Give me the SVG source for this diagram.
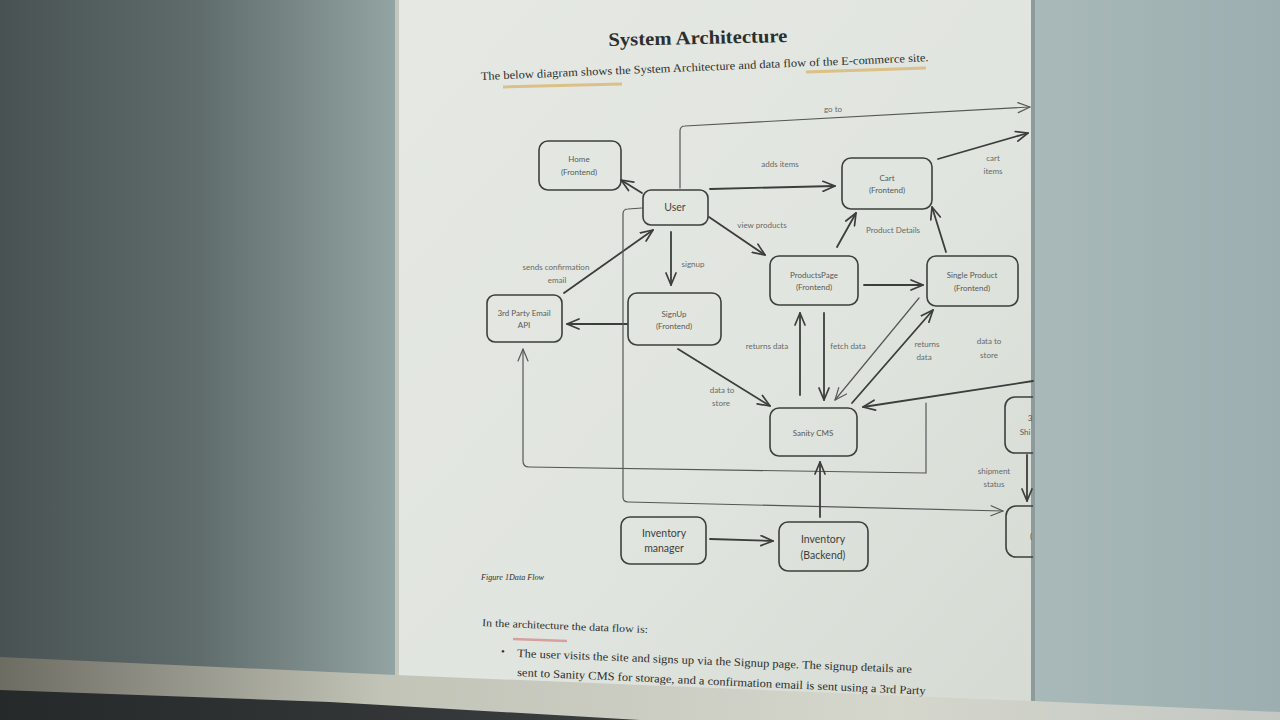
<svg xmlns="http://www.w3.org/2000/svg" width="1280" height="720" viewBox="0 0 1280 720">
<defs>
  <linearGradient id="bgL" x1="0" y1="0" x2="1" y2="0">
    <stop offset="0" stop-color="#485252"/>
    <stop offset="0.5" stop-color="#5f6c6b"/>
    <stop offset="1" stop-color="#92a4a3"/>
  </linearGradient>
  <linearGradient id="bgR" x1="0" y1="0" x2="1" y2="0">
    <stop offset="0" stop-color="#a9b9ba"/>
    <stop offset="1" stop-color="#9caeaf"/>
  </linearGradient>
  <linearGradient id="paper" x1="0" y1="0" x2="1" y2="1">
    <stop offset="0" stop-color="#e6e9e3"/>
    <stop offset="0.55" stop-color="#e1e5df"/>
    <stop offset="1" stop-color="#d5dad3"/>
  </linearGradient>
  <linearGradient id="strip" x1="0" y1="0" x2="1" y2="0">
    <stop offset="0" stop-color="#6c6c62"/>
    <stop offset="0.3" stop-color="#c3c4b8"/>
    <stop offset="0.7" stop-color="#d5d6cc"/>
    <stop offset="1" stop-color="#c3c8c3"/>
  </linearGradient>
  <linearGradient id="dark" x1="0" y1="0" x2="1" y2="0">
    <stop offset="0" stop-color="#25292a"/>
    <stop offset="1" stop-color="#3a3e3e"/>
  </linearGradient>
  <clipPath id="pageClip"><rect x="395" y="0" width="638" height="720"/></clipPath>
  <marker id="ah" viewBox="0 0 14 12" refX="13" refY="6" markerWidth="14" markerHeight="12" markerUnits="userSpaceOnUse" orient="auto">
    <path d="M1,1 L13,6 L1,11" fill="none" stroke="#3b3e3b" stroke-width="1.7" stroke-linecap="round" stroke-linejoin="round"/>
  </marker>
  <marker id="aht" viewBox="0 0 14 12" refX="13" refY="6" markerWidth="14" markerHeight="12" markerUnits="userSpaceOnUse" orient="auto">
    <path d="M1,1 L13,6 L1,11" fill="none" stroke="#555855" stroke-width="1.2" stroke-linecap="round" stroke-linejoin="round"/>
  </marker>
</defs>
<style>
  .box{fill:none;stroke:#3d403d;stroke-width:1.6}
  .nt{font-family:Lato,"Open Sans",sans-serif;font-size:8px;fill:#575a57;text-anchor:middle;dominant-baseline:central}
  .nb{font-family:Lato,"Open Sans",sans-serif;font-size:10.5px;fill:#3c3f3c;text-anchor:middle;dominant-baseline:central}
  .lb{font-family:Lato,"Open Sans",sans-serif;font-size:8px;fill:#676a67;text-anchor:middle;dominant-baseline:central}
  .c{fill:none;stroke:#3b3e3b;stroke-width:1.8;stroke-linecap:round;marker-end:url(#ah)}
  .ct{fill:none;stroke:#555855;stroke-width:1.2;stroke-linecap:round;marker-end:url(#aht)}
  .doc{font-family:"Liberation Serif","Times New Roman",serif;fill:#2c2f2c}
</style>

<!-- photo background -->
<rect x="0" y="0" width="396" height="720" fill="url(#bgL)"/>
<rect x="1033" y="0" width="247" height="720" fill="url(#bgR)"/>
<rect x="395" y="0" width="638" height="720" fill="url(#paper)"/>
<rect x="395" y="0" width="4" height="720" fill="#c4c8bc"/>
<rect x="1031" y="0" width="4" height="720" fill="#8e9b9c"/>

<!-- document text -->
<text class="doc" x="698" y="44" font-size="19" font-weight="bold" text-anchor="middle" textLength="179" lengthAdjust="spacingAndGlyphs" transform="rotate(-1.3 698 44)">System Architecture</text>
<text class="doc" x="481" y="80" font-size="11.5" textLength="448" lengthAdjust="spacingAndGlyphs" transform="rotate(-2.4 481 80)">The below diagram shows the System Architecture and data flow of the E-commerce site.</text>
<path d="M503,87 L622,84" stroke="#d8b36a" stroke-width="3" opacity="0.75" fill="none"/>
<path d="M806,72 L926,68" stroke="#d8b36a" stroke-width="3" opacity="0.75" fill="none"/>

<g id="connectors">
  <path class="ct" d="M680,188 L680,131 Q680,126 685,126 L1030,107"/>
  <path class="c" d="M642,193 L621,180"/>
  <path class="c" d="M710,189 L835,186"/>
  <path class="c" d="M938,159 L1028,133"/>
  <path class="c" d="M709,217 L765,255"/>
  <path class="c" d="M837,247 L856,213"/>
  <path class="c" d="M946,252 L932,207"/>
  <path class="c" d="M864,285 L923,285"/>
  <path class="c" d="M671,232 L671,285"/>
  <path class="c" d="M627,324 L567,324"/>
  <path class="c" d="M564,293 L653,230"/>
  <path class="c" d="M678,349 L770,406"/>
  <path class="c" d="M800,395 L800,313"/>
  <path class="c" d="M824,313 L824,400"/>
  <path class="ct" d="M919,298 L835,400"/>
  <path class="c" d="M852,403 L933,310"/>
  <path class="c" d="M1033,381 L863,407"/>
  <path class="ct" d="M926,403 L926,473 L529,467 Q523,467 523,461 L523,349"/>
  <path class="ct" d="M642,208 L628,209 Q623,209 623,214 L623,497 Q623,502 628,502 L1003,511"/>
  <path class="c" d="M1027,455 L1027,501"/>
  <path class="c" d="M710,539 L773,541"/>
  <path class="c" d="M820,517 L820,462"/>
</g>

<g id="labels">
  <text class="lb" x="833" y="109">go to</text>
  <text class="lb" x="780" y="164">adds items</text>
  <text class="lb" x="993" y="158">cart</text>
  <text class="lb" x="993" y="171">items</text>
  <text class="lb" x="762" y="225">view products</text>
  <text class="lb" x="893" y="230">Product Details</text>
  <text class="lb" x="693" y="264">signup</text>
  <text class="lb" x="556" y="267">sends confirmation</text>
  <text class="lb" x="557" y="280">email</text>
  <text class="lb" x="767" y="346">returns data</text>
  <text class="lb" x="848" y="346">fetch data</text>
  <text class="lb" x="927" y="344">returns</text>
  <text class="lb" x="924" y="357">data</text>
  <text class="lb" x="989" y="341">data to</text>
  <text class="lb" x="989" y="355">store</text>
  <text class="lb" x="722" y="390">data to</text>
  <text class="lb" x="721" y="403">store</text>
  <text class="lb" x="994" y="471">shipment</text>
  <text class="lb" x="994" y="484">status</text>
</g>

<g id="home">
  <rect class="box" x="539" y="141" width="82" height="49" rx="9"/>
  <text class="nt" x="579" y="159">Home</text>
  <text class="nt" x="579" y="172">(Frontend)</text>
</g>
<g id="user">
  <rect class="box" x="643" y="190" width="65" height="35" rx="8"/>
  <text class="nt" x="675" y="207" style="font-size:10.5px;fill:#444744">User</text>
</g>
<g id="cart">
  <rect class="box" x="842" y="158" width="90" height="51" rx="9"/>
  <text class="nt" x="887" y="178">Cart</text>
  <text class="nt" x="887" y="190">(Frontend)</text>
</g>
<g id="productsPage">
  <rect class="box" x="770" y="256" width="88" height="49" rx="9"/>
  <text class="nt" x="814" y="275">ProductsPage</text>
  <text class="nt" x="814" y="287">(Frontend)</text>
</g>
<g id="singleProduct">
  <rect class="box" x="927" y="256" width="91" height="50" rx="9"/>
  <text class="nt" x="972" y="275">Single Product</text>
  <text class="nt" x="972" y="288">(Frontend)</text>
</g>
<g id="emailApi">
  <rect class="box" x="487" y="295" width="75" height="47" rx="8"/>
  <text class="nt" x="524" y="313">3rd Party Email</text>
  <text class="nt" x="524" y="325">API</text>
</g>
<g id="signup">
  <rect class="box" x="628" y="293" width="93" height="52" rx="9"/>
  <text class="nt" x="674" y="314">SignUp</text>
  <text class="nt" x="674" y="326">(Frontend)</text>
</g>
<g id="sanity">
  <rect class="box" x="770" y="408" width="87" height="48" rx="9"/>
  <text class="nt" x="813" y="433">Sanity CMS</text>
</g>
<g id="shipping" clip-path="url(#pageClip)">
  <rect class="box" x="1005" y="397" width="70" height="56" rx="10"/>
  <text class="nt" x="1030" y="418">3</text>
  <text class="nt" x="1025" y="432">Shi</text>
</g>
<g id="order" clip-path="url(#pageClip)">
  <rect class="box" x="1006" y="506" width="70" height="51" rx="10"/>
  <text class="nt" x="1031" y="536">(</text>
</g>
<g id="inventoryManager">
  <rect class="box" x="621" y="517" width="85" height="47" rx="9"/>
  <text class="nb" x="664" y="533">Inventory</text>
  <text class="nb" x="664" y="548">manager</text>
</g>
<g id="inventoryBackend">
  <rect class="box" x="779" y="522" width="89" height="49" rx="9"/>
  <text class="nb" x="823" y="539">Inventory</text>
  <text class="nb" x="823" y="555">(Backend)</text>
</g>

<!-- lower document text -->
<text class="doc" x="481" y="580" font-size="7.5" font-style="italic" textLength="63" lengthAdjust="spacingAndGlyphs">Figure 1Data Flow</text>
<text class="doc" x="482" y="626" font-size="10.5" textLength="166" lengthAdjust="spacingAndGlyphs" transform="rotate(2.4 482 626)">In the architecture  the data flow is:</text>
<path d="M513,639 L567,641" stroke="#d48f8f" stroke-width="2.5" opacity="0.8" fill="none"/>
<text class="doc" x="501" y="655" font-size="11">•</text>
<text class="doc" x="517" y="657" font-size="11.5" textLength="395" lengthAdjust="spacingAndGlyphs" transform="rotate(2.3 517 657)">The user visits the site and signs up via the Signup page. The signup details are</text>
<text class="doc" x="517" y="676" font-size="11.5" textLength="409" lengthAdjust="spacingAndGlyphs" transform="rotate(2.6 517 676)">sent to Sanity CMS for storage, and a confirmation email is sent using a 3rd Party</text>
<text class="doc" x="517" y="695" font-size="11.5" transform="rotate(2.6 517 695)">Email API</text>

<!-- bezel / desk at bottom -->
<polygon points="0,657 396,675 1033,701 1280,712 1280,720 0,720" fill="url(#strip)"/>
<polygon points="0,690 330,702 640,720 0,720" fill="url(#dark)"/>
</svg>
